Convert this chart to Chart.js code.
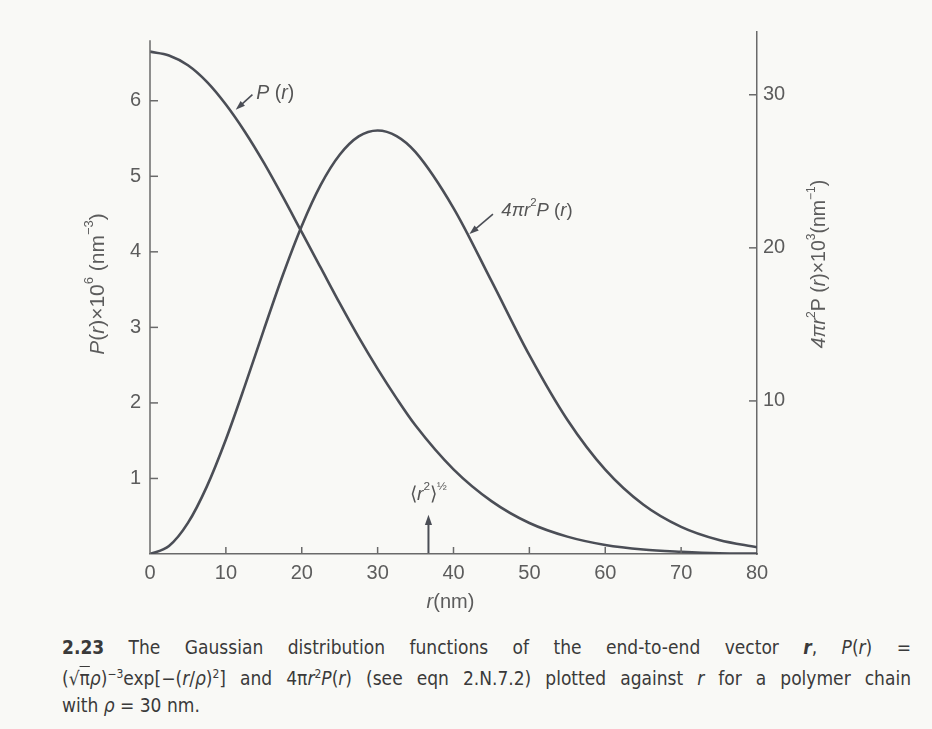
<!DOCTYPE html>
<html>
<head>
<meta charset="utf-8">
<script src="https://cdn.jsdelivr.net/npm/chart.js@4/dist/chart.umd.min.js"></script>
<style>
  body { margin: 0; background: #f9f9f6; }
  #wrap { position: relative; width: 932px; height: 729px; overflow: hidden; }
  #caption { position: absolute; left: 62px; top: 634px; width: 849px;
    font-family: "Liberation Sans Narrow", "DejaVu Sans Condensed", "Liberation Sans", sans-serif;
    font-size: 19px; color: #3a3a3a; line-height: 27px; }
  #caption div { text-align: justify; text-align-last: justify; white-space: nowrap; }
  #caption div.last { text-align-last: left; }
  .ov { text-decoration: overline; }
</style>
</head>
<body>
<div id="wrap">
  <canvas id="chart" width="932" height="625"></canvas>
  <div id="caption">
    <div><b>2.23</b> The Gaussian distribution functions of the end-to-end vector <b><i>r</i></b>, <i>P</i>(<i>r</i>) =</div>
    <div>(√<span class="ov">π</span><i>ρ</i>)<sup style="font-size:12px">−3</sup>exp[−(<i>r</i>/<i>ρ</i>)<sup style="font-size:12px">2</sup>] and 4π<i>r</i><sup style="font-size:12px">2</sup><i>P</i>(<i>r</i>) (see eqn 2.N.7.2) plotted against <i>r</i> for a polymer chain</div>
    <div class="last">with <i>ρ</i> = 30 nm.</div>
  </div>
</div>
<script>
// r in nm
const rValues = [0, 2.5, 5, 7.5, 10, 12.5, 15, 17.5, 20, 22.5, 25, 27.5, 30, 32.5, 35, 40, 45, 50, 55, 60, 65, 70, 75, 80];
// P(r) x 10^6 (nm^-3), left axis
const pValues = [6.65, 6.60, 6.47, 6.25, 5.95, 5.59, 5.18, 4.73, 4.26, 3.79, 3.32, 2.87, 2.45, 2.06, 1.70,
  1.12, 0.70, 0.41, 0.23, 0.12, 0.06, 0.03, 0.01, 0.005];
// 4 pi r^2 P(r) x 10^3 (nm^-1), right axis
const radialValues = [0, 0.52, 2.03, 4.42, 7.48, 10.98, 14.64, 18.21, 21.43, 24.11, 26.08, 27.28, 27.67, 27.30, 26.25,
  22.60, 17.84, 12.99, 8.77, 5.51, 3.23, 1.77, 0.91, 0.44];
const xTicks = [0, 10, 20, 30, 40, 50, 60, 70, 80];
const rmsR = 36.7;

const ink = '#4b4e56';
const axisCol = '#6a6a6a';
const textCol = '#5c5c5c';
const fontFam = '"Liberation Sans", Arial, sans-serif';

function drawRuns(ctx, runs, x, y, size) {
  let w = 0;
  runs.forEach(r => {
    const s = r.sup ? size * 0.62 : size;
    ctx.font = (r.it ? 'italic ' : '') + s + 'px ' + fontFam;
    r.w = ctx.measureText(r.t).width;
    w += r.w;
  });
  let cx = x - w / 2;
  ctx.textBaseline = 'middle';
  ctx.textAlign = 'left';
  runs.forEach(r => {
    const s = r.sup ? size * 0.62 : size;
    ctx.font = (r.it ? 'italic ' : '') + s + 'px ' + fontFam;
    ctx.fillText(r.t, cx, r.sup ? y - size * 0.42 : y);
    cx += r.w;
  });
}

function arrow(ctx, x1, y1, x2, y2, L) {
  const a = Math.atan2(y2 - y1, x2 - x1);
  ctx.beginPath();
  ctx.moveTo(x1, y1);
  ctx.lineTo(x2 - Math.cos(a) * 5, y2 - Math.sin(a) * 5);
  ctx.stroke();
  ctx.beginPath();
  ctx.moveTo(x2, y2);
  ctx.lineTo(x2 - L * Math.cos(a - 0.33), y2 - L * Math.sin(a - 0.33));
  ctx.lineTo(x2 - L * Math.cos(a + 0.33), y2 - L * Math.sin(a + 0.33));
  ctx.closePath();
  ctx.fill();
}

const extras = {
  id: 'extras',
  afterDraw(chart) {
    const ctx = chart.ctx;
    const x = chart.scales.x, y = chart.scales.y, y2 = chart.scales.y2;
    const area = chart.chartArea;
    ctx.save();
    ctx.strokeStyle = axisCol;
    ctx.lineWidth = 1.5;
    // left axis line (a bit shorter than the right one)
    ctx.beginPath(); ctx.moveTo(area.left, area.bottom); ctx.lineTo(area.left, y.getPixelForValue(6.8)); ctx.stroke();
    // inward tick marks
    y.ticks.forEach(t => {
      const py = y.getPixelForValue(t.value);
      ctx.beginPath(); ctx.moveTo(area.left, py); ctx.lineTo(area.left + 8, py); ctx.stroke();
    });
    y2.ticks.forEach(t => {
      const py = y2.getPixelForValue(t.value);
      ctx.beginPath(); ctx.moveTo(area.right, py); ctx.lineTo(area.right - 8, py); ctx.stroke();
    });
    x.ticks.forEach(t => {
      if (t.value === 0 || t.value === 80) return;
      const px = x.getPixelForValue(t.value);
      ctx.beginPath(); ctx.moveTo(px, area.bottom); ctx.lineTo(px, area.bottom - 7); ctx.stroke();
    });

    // axis titles
    ctx.fillStyle = textCol;
    ctx.save();
    ctx.translate(area.left - 52, 284);
    ctx.rotate(-Math.PI / 2);
    drawRuns(ctx, [{t: 'P', it: true}, {t: '('}, {t: 'r', it: true}, {t: ')×10'}, {t: '6', sup: true},
      {t: ' (nm'}, {t: '−3', sup: true}, {t: ')'}], 0, 0, 21);
    ctx.restore();
    ctx.save();
    ctx.translate(area.right + 63, 264);
    ctx.rotate(-Math.PI / 2);
    drawRuns(ctx, [{t: '4π', it: true}, {t: 'r', it: true}, {t: '2', sup: true}, {t: 'P ('}, {t: 'r', it: true},
      {t: ')×10'}, {t: '3', sup: true}, {t: '(nm'}, {t: '−1', sup: true}, {t: ')'}], 0, 0, 19.5);
    ctx.restore();
    drawRuns(ctx, [{t: 'r', it: true}, {t: '(nm)'}], x.getPixelForValue(39.6), area.bottom + 48, 20);

    // annotations
    ctx.strokeStyle = ink;
    ctx.fillStyle = ink;
    ctx.lineWidth = 1.6;
    arrow(ctx, x.getPixelForValue(13.5), y.getPixelForValue(6.08), x.getPixelForValue(11.3), y.getPixelForValue(5.88), 10);
    arrow(ctx, x.getPixelForValue(45.2), y2.getPixelForValue(22.2), x.getPixelForValue(42.1), y2.getPixelForValue(20.9), 10);
    ctx.lineWidth = 2;
    arrow(ctx, x.getPixelForValue(rmsR), area.bottom - 1, x.getPixelForValue(rmsR), y.getPixelForValue(0.52), 11);

    ctx.fillStyle = '#555';
    drawRuns(ctx, [{t: 'P', it: true}, {t: ' ('}, {t: 'r', it: true}, {t: ')'}], x.getPixelForValue(16.5), y.getPixelForValue(6.1), 19.5);
    drawRuns(ctx, [{t: '4π', it: true}, {t: 'r', it: true}, {t: '2', sup: true}, {t: 'P', it: true}, {t: ' ('}, {t: 'r', it: true}, {t: ')'}],
      x.getPixelForValue(51.0), y2.getPixelForValue(22.4), 18.5);
    drawRuns(ctx, [{t: '⟨'}, {t: 'r', it: true}, {t: '2', sup: true}, {t: '⟩'}, {t: '½', sup: true}],
      x.getPixelForValue(rmsR), y.getPixelForValue(0.78), 19);
    ctx.restore();
  }
};

const tickFont = {family: fontFam, size: 20};

new Chart(document.getElementById('chart'), {
  type: 'line',
  data: {
    datasets: [{
      label: 'P(r)',
      data: rValues.map((r, i) => ({x: r, y: pValues[i]})),
      yAxisID: 'y',
      borderColor: ink,
      borderWidth: 2.6,
      pointRadius: 0,
      cubicInterpolationMode: 'monotone',
      fill: false
    }, {
      label: '4πr²P(r)',
      data: rValues.map((r, i) => ({x: r, y: radialValues[i]})),
      yAxisID: 'y2',
      borderColor: ink,
      borderWidth: 2.6,
      pointRadius: 0,
      cubicInterpolationMode: 'monotone',
      fill: false
    }]
  },
  options: {
    responsive: false,
    animation: false,
    layout: {padding: {top: 32, left: 0, right: 0, bottom: 0}},
    plugins: {legend: {display: false}, tooltip: {enabled: false}},
    scales: {
      x: {
        type: 'linear', min: 0, max: 80,
        afterBuildTicks: s => { s.ticks = xTicks.map(v => ({value: v})); },
        ticks: {color: textCol, font: tickFont, padding: 7},
        grid: {display: false, drawTicks: false},
        border: {display: true, color: axisCol, width: 1.5},
        afterFit: s => { s.height = 71; }
      },
      y: {
        position: 'left', min: 0, max: 6.91,
        afterBuildTicks: s => { s.ticks = s.ticks.filter(t => Number.isInteger(t.value) && t.value > 0); },
        ticks: {stepSize: 1, color: textCol, font: tickFont, padding: 9},
        grid: {display: false, drawTicks: false},
        border: {display: false},
        afterFit: s => { s.width = 150; }
      },
      y2: {
        position: 'right', min: 0, max: 34.1,
        afterBuildTicks: s => { s.ticks = s.ticks.filter(t => Number.isInteger(t.value) && t.value > 0); },
        ticks: {stepSize: 10, color: textCol, font: tickFont, padding: 6},
        grid: {display: false, drawTicks: false},
        border: {display: true, color: axisCol, width: 1.5},
        afterFit: s => { s.width = 175; }
      }
    }
  },
  plugins: [extras]
});
</script>
</body>
</html>
